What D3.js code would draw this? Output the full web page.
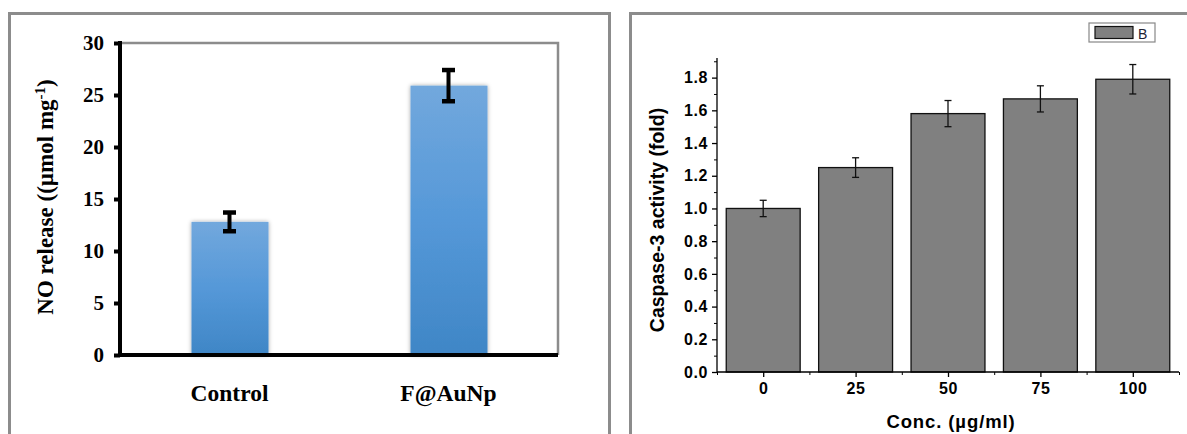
<!DOCTYPE html>
<html>
<head>
<meta charset="utf-8">
<script src="https://cdn.jsdelivr.net/npm/d3@7"></script>
<style>
  body { margin: 0; background: #fff; }
  svg { display: block; }
</style>
</head>
<body>
<svg id="chart" width="1187" height="434"></svg>
<script>
"use strict";

// left panel: NO release
const noGroups = ["Control", "F@AuNp"];
const noValues = [12.8, 25.9];
const noErrors = [0.9, 1.5];
const noTicks = [0, 5, 10, 15, 20, 25, 30];

// right panel: caspase-3 activity
const concLevels = [0, 25, 50, 75, 100];
const caspValues = [1.0, 1.25, 1.58, 1.67, 1.79];
const caspErrors = [0.05, 0.06, 0.08, 0.08, 0.09];
const caspTicks = [0.0, 0.2, 0.4, 0.6, 0.8, 1.0, 1.2, 1.4, 1.6, 1.8];
const caspMinor = [0.1, 0.3, 0.5, 0.7, 0.9, 1.1, 1.3, 1.5, 1.7, 1.9];
const concMinor = [-12.5, 12.5, 37.5, 62.5, 87.5, 112.5];

const svg = d3.select("#chart");

// gradient + soft shadow for the left bars
const defs = svg.append("defs");
const grad = defs.append("linearGradient")
  .attr("id", "blueGrad").attr("x1", 0).attr("y1", 0).attr("x2", 0).attr("y2", 1);
grad.append("stop").attr("offset", "0%").attr("stop-color", "#72a8dd");
grad.append("stop").attr("offset", "50%").attr("stop-color", "#5598d8");
grad.append("stop").attr("offset", "100%").attr("stop-color", "#3f86c6");
const shadow = defs.append("filter").attr("id", "soft")
  .attr("x", "-20%").attr("y", "-5%").attr("width", "140%").attr("height", "110%");
shadow.append("feDropShadow")
  .attr("dx", 0).attr("dy", 0).attr("stdDeviation", 2)
  .attr("flood-color", "#000").attr("flood-opacity", 0.35);

// panel frames
svg.append("rect").attr("x", 9.5).attr("y", 13.5).attr("width", 600).attr("height", 440)
  .attr("fill", "none").attr("stroke", "#8c8c8c").attr("stroke-width", 3);
svg.append("rect").attr("x", 630.5).attr("y", 13.5).attr("width", 600).attr("height", 440)
  .attr("fill", "none").attr("stroke", "#8c8c8c").attr("stroke-width", 3);

/* ---------- left chart ---------- */
const serif = "'Liberation Serif', 'Times New Roman', serif";
const lx = d3.scalePoint().domain(noGroups).range([120, 558]).padding(0.5);
const ly = d3.scaleLinear().domain([0, 30]).range([355, 43]);
const left = svg.append("g");

// plot area border (top + right, grey)
left.append("path")
  .attr("d", `M${lx.range()[0]},${ly(30)}H${lx.range()[1]}V${ly(0)}`)
  .attr("fill", "none").attr("stroke", "#8c8c8c").attr("stroke-width", 2.5);

left.selectAll("rect.bar").data(noGroups).join("rect")
  .attr("class", "bar")
  .attr("x", d => lx(d) - 38)
  .attr("width", 77)
  .attr("y", (d, i) => ly(noValues[i]))
  .attr("height", (d, i) => ly(0) - ly(noValues[i]))
  .attr("fill", "url(#blueGrad)")
  .attr("filter", "url(#soft)");

// error bars
const lErr = left.selectAll("g.err").data(noGroups).join("g").attr("class", "err");
lErr.append("line")
  .attr("x1", d => lx(d)).attr("x2", d => lx(d))
  .attr("y1", (d, i) => ly(noValues[i] + noErrors[i]))
  .attr("y2", (d, i) => ly(noValues[i] - noErrors[i]))
  .attr("stroke", "#000").attr("stroke-width", 4);
[1, -1].forEach(s => {
  lErr.append("line")
    .attr("x1", d => lx(d) - 6.5).attr("x2", d => lx(d) + 6.5)
    .attr("y1", (d, i) => ly(noValues[i] + s * noErrors[i]))
    .attr("y2", (d, i) => ly(noValues[i] + s * noErrors[i]))
    .attr("stroke", "#000").attr("stroke-width", 4.5);
});

// axes
const lyAxis = left.append("g").attr("transform", "translate(120,0)")
  .call(d3.axisLeft(ly).tickValues(noTicks).tickSize(6).tickPadding(10));
lyAxis.select(".domain").attr("stroke-width", 4).attr("d", `M0,${ly(30) - 2}V${ly(0) + 2}`);
lyAxis.selectAll(".tick line").attr("stroke-width", 4);
lyAxis.selectAll("text").attr("font-family", serif).attr("font-weight", "bold")
  .attr("font-size", 21).attr("fill", "#000");

left.append("line")
  .attr("x1", 118).attr("x2", lx.range()[1]).attr("y1", ly(0)).attr("y2", ly(0))
  .attr("stroke", "#000").attr("stroke-width", 4);

left.selectAll("text.cat").data(noGroups).join("text")
  .attr("class", "cat")
  .attr("x", d => lx(d)).attr("y", 401)
  .attr("text-anchor", "middle")
  .attr("font-family", serif).attr("font-weight", "bold").attr("font-size", 23.5)
  .text(d => d);

const lTitle = left.append("text")
  .attr("transform", "translate(53,197) rotate(-90)")
  .attr("text-anchor", "middle")
  .attr("font-family", serif).attr("font-weight", "bold").attr("font-size", 23);
lTitle.append("tspan").text("NO release ((µmol mg");
lTitle.append("tspan").attr("baseline-shift", "super").attr("font-size", 15).text("-1");
lTitle.append("tspan").text(")");

/* ---------- right chart ---------- */
const sans = "'Liberation Sans', Arial, sans-serif";
const rx = d3.scaleLinear().domain([-12.5, 112.5]).range([717, 1179]);
const ry = d3.scaleLinear().domain([0, 1.92]).range([372, 58]);
const right = svg.append("g");
const barW = rx(20) - rx(0);

right.selectAll("rect.bar").data(concLevels).join("rect")
  .attr("class", "bar")
  .attr("x", d => rx(d) - barW / 2)
  .attr("width", barW)
  .attr("y", (d, i) => ry(caspValues[i]))
  .attr("height", (d, i) => ry(0) - ry(caspValues[i]))
  .attr("fill", "#808080").attr("stroke", "#111").attr("stroke-width", 1.3);

const rErr = right.selectAll("g.err").data(concLevels).join("g").attr("class", "err");
rErr.append("line")
  .attr("x1", d => rx(d)).attr("x2", d => rx(d))
  .attr("y1", (d, i) => ry(caspValues[i] + caspErrors[i]))
  .attr("y2", (d, i) => ry(caspValues[i] - caspErrors[i]))
  .attr("stroke", "#111").attr("stroke-width", 1.3);
[1, -1].forEach(s => {
  rErr.append("line")
    .attr("x1", d => rx(d) - 3.5).attr("x2", d => rx(d) + 3.5)
    .attr("y1", (d, i) => ry(caspValues[i] + s * caspErrors[i]))
    .attr("y2", (d, i) => ry(caspValues[i] + s * caspErrors[i]))
    .attr("stroke", "#111").attr("stroke-width", 1.3);
});

// y axis with minor ticks
right.append("g").attr("transform", `translate(${rx(-12.5)},0)`)
  .call(d3.axisLeft(ry).tickValues(caspMinor).tickSize(3).tickFormat(""))
  .call(g => g.select(".domain").remove());
const ryAxis = right.append("g").attr("transform", `translate(${rx(-12.5)},0)`)
  .call(d3.axisLeft(ry).tickValues(caspTicks).tickSize(5).tickPadding(4).tickFormat(d3.format(".1f")));
ryAxis.select(".domain").attr("d", `M0,${ry(1.92)}V${ry(0)}`).attr("stroke-width", 1.3);
ryAxis.selectAll(".tick line").attr("stroke-width", 1.3);
ryAxis.selectAll("text").attr("font-family", sans).attr("font-weight", "bold")
  .attr("font-size", 16).attr("letter-spacing", 0.6).attr("fill", "#000");

// x axis with minor ticks
right.append("g").attr("transform", `translate(0,${ry(0)})`)
  .call(d3.axisBottom(rx).tickValues(concMinor).tickSize(3).tickFormat(""))
  .call(g => g.select(".domain").remove());
const rxAxis = right.append("g").attr("transform", `translate(0,${ry(0)})`)
  .call(d3.axisBottom(rx).tickValues(concLevels).tickSize(5).tickPadding(6));
rxAxis.select(".domain").attr("d", `M${rx(-12.5)},0H${rx(112.5)}`).attr("stroke-width", 1.3);
rxAxis.selectAll(".tick line").attr("stroke-width", 1.3);
rxAxis.selectAll("text").attr("font-family", sans).attr("font-weight", "bold")
  .attr("font-size", 16).attr("letter-spacing", 0.6).attr("fill", "#000");

right.append("text")
  .attr("x", rx(50) + 3).attr("y", 428)
  .attr("text-anchor", "middle")
  .attr("font-family", sans).attr("font-weight", "bold").attr("font-size", 18.5)
  .attr("letter-spacing", 0.9)
  .text("Conc. (µg/ml)");

right.append("text")
  .attr("transform", "translate(664,220) rotate(-90)")
  .attr("text-anchor", "middle")
  .attr("font-family", sans).attr("font-weight", "bold").attr("font-size", 19.5)
  .text("Caspase-3 activity (fold)");

// legend
const legend = right.append("g").attr("transform", "translate(1089,23)");
legend.append("rect").attr("width", 66).attr("height", 19)
  .attr("fill", "#fff").attr("stroke", "#888").attr("stroke-width", 1.2);
legend.append("rect").attr("x", 6).attr("y", 3.5).attr("width", 38).attr("height", 12)
  .attr("fill", "#808080").attr("stroke", "#111").attr("stroke-width", 1.2);
legend.append("text").attr("x", 49).attr("y", 15.5)
  .attr("font-family", sans).attr("font-size", 14).attr("fill", "#223")
  .text("B");
</script>
</body>
</html>
